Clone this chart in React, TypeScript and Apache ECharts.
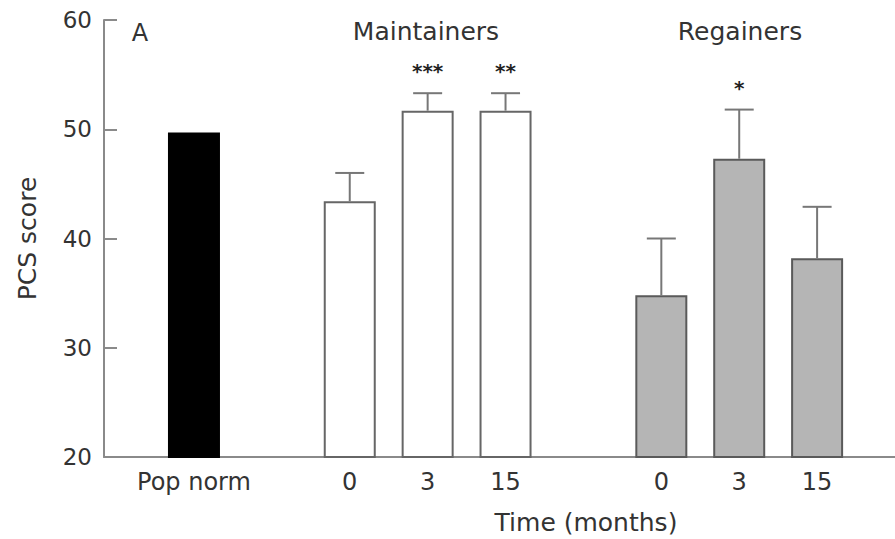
import React, { useEffect, useRef } from "react";
import * as echarts from "echarts";

// Category labels and their slot positions on the x scale (gaps between groups)
const labels = ["Pop norm", "0", "3", "15", "0", "3", "15"];
const slots = [0, 2, 3, 4, 6, 7, 8];
// PCS score means and upper error (SEM)
const means = [49.7, 43.4, 51.7, 51.7, 34.8, 47.3, 38.2];
const errors = [0, 2.6, 1.6, 1.6, 5.2, 4.5, 4.7];
const stars = ["", "", "***", "**", "", "*", ""];
const groups = ["pop", "m", "m", "m", "r", "r", "r"];
const groupTitles = ["Maintainers", "Regainers"];
const yTicks = [20, 30, 40, 50, 60];

const FONT = "DejaVu Sans";
const TEXT = "#333";
const AXIS = "#8a8a8a";

const fills: Record<string, string> = { pop: "#000000", m: "#ffffff", r: "#b5b5b5" };
const borders: Record<string, string> = { pop: "#000000", m: "#666666", r: "#5a5a5a" };

export default function App() {
  const ref = useRef<HTMLDivElement>(null);
  useEffect(() => {
    if (!ref.current) return;
    const chart = echarts.init(ref.current, null, { renderer: "svg" });
    const barData = slots.map((s, i) => ({
      value: [s, means[i]],
      itemStyle: { color: fills[groups[i]], borderColor: borders[groups[i]], borderWidth: 2 },
    }));
    const errData = slots
      .map((s, i) => ({ s, i }))
      .filter((d) => errors[d.i] > 0)
      .map((d) => [d.s, means[d.i], means[d.i] + errors[d.i], d.i]);
    chart.setOption({
      animation: false,
      grid: { left: 104, right: 0, top: 20, bottom: 82, containLabel: false },
      xAxis: {
        type: "value",
        min: -1.155,
        max: 9,
        splitLine: { show: false },
        axisTick: { show: false },
        axisLine: { show: true, onZero: false, lineStyle: { color: AXIS, width: 2 } },
        axisLabel: {
          customValues: slots,
          formatter: (v: number) => {
            const i = slots.indexOf(Math.round(v));
            return i >= 0 ? labels[i] : "";
          },
          fontFamily: FONT,
          fontSize: 24,
          color: TEXT,
          margin: 13,
        },
      },
      yAxis: {
        type: "value",
        min: yTicks[0],
        max: yTicks[yTicks.length - 1],
        interval: 10,
        splitLine: { show: false },
        axisLine: { show: true, onZero: false, lineStyle: { color: AXIS, width: 2 } },
        axisTick: { show: true, inside: true, length: 13, lineStyle: { color: AXIS, width: 2 } },
        axisLabel: { fontFamily: FONT, fontSize: 23, color: TEXT, margin: 12 },
        name: "PCS score",
        nameLocation: "middle",
        nameGap: 64,
        nameTextStyle: { fontFamily: FONT, fontSize: 25, color: TEXT },
      },
      series: [
        {
          type: "bar",
          data: barData,
          barWidth: 52,
          clip: true,
        },
        {
          type: "custom",
          data: errData,
          encode: { x: 0, y: [1, 2] },
          z: 5,
          renderItem: (params: any, api: any) => {
            const x = api.value(0);
            const m = api.value(1);
            const t = api.value(2);
            const idx = api.value(3);
            const base = api.coord([x, m]);
            const top = api.coord([x, t]);
            const children: any[] = [
              {
                type: "line",
                shape: { x1: base[0], y1: base[1], x2: top[0], y2: top[1] },
                style: { stroke: "#777", lineWidth: 2 },
              },
              {
                type: "line",
                shape: { x1: top[0] - 14.5, y1: top[1], x2: top[0] + 14.5, y2: top[1] },
                style: { stroke: "#777", lineWidth: 2 },
              },
            ];
            const s = stars[idx];
            if (s) {
              children.push({
                type: "text",
                style: {
                  text: s,
                  x: top[0],
                  y: top[1] - 22,
                  align: "center",
                  verticalAlign: "middle",
                  fontFamily: FONT,
                  fontWeight: "bold",
                  fontSize: 20,
                  fill: "#222",
                },
              });
            }
            return { type: "group", children };
          },
        },
      ],
      graphic: [
        { type: "text", x: 140, y: 33, style: { text: "A", fontFamily: FONT, fontSize: 24, fill: TEXT, align: "center", verticalAlign: "middle" } },
        { type: "text", x: 426, y: 31, style: { text: groupTitles[0], fontFamily: FONT, fontSize: 25, fill: TEXT, align: "center", verticalAlign: "middle" } },
        { type: "text", x: 740, y: 31, style: { text: groupTitles[1], fontFamily: FONT, fontSize: 25, fill: TEXT, align: "center", verticalAlign: "middle" } },
        { type: "text", x: 586, y: 522, style: { text: "Time (months)", fontFamily: FONT, fontSize: 25, fill: TEXT, align: "center", verticalAlign: "middle" } },
      ],
    });
    return () => chart.dispose();
  }, []);
  return (
    <div
      ref={ref}
      style={{ position: "fixed", left: 0, top: 0, width: 895, height: 539, background: "#fff" }}
    />
  );
}
